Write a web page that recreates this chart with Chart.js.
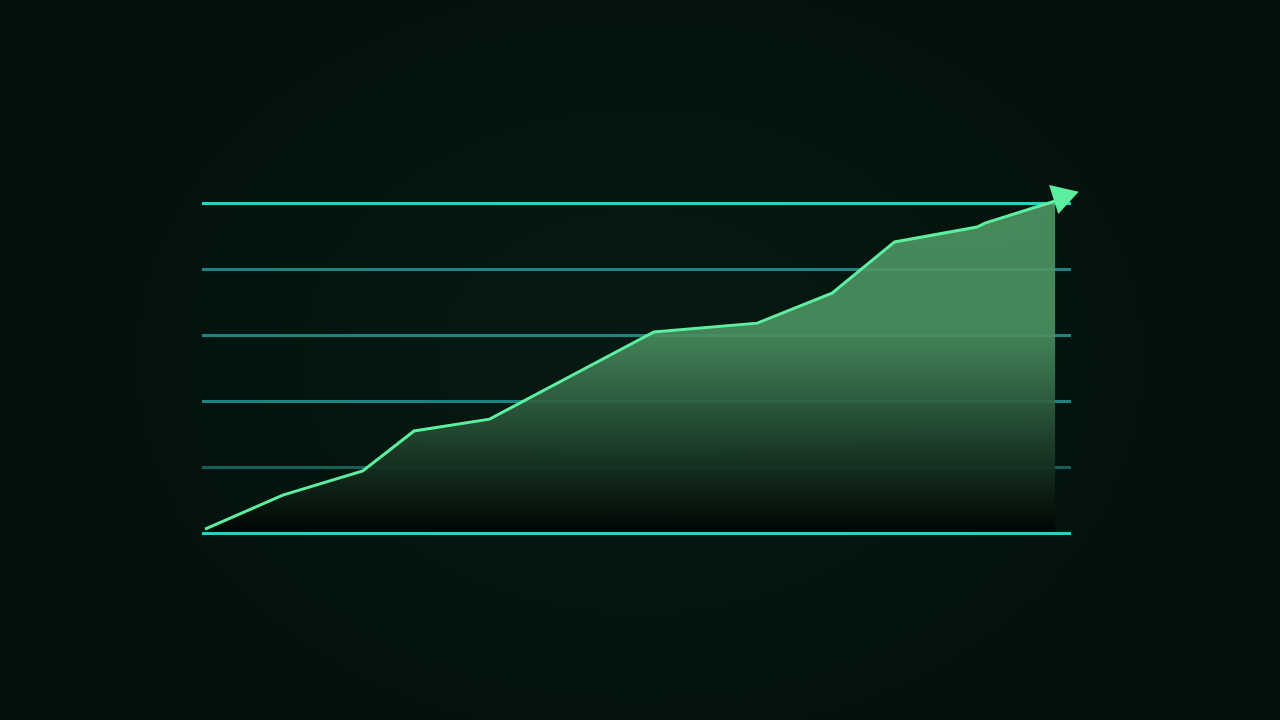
<!DOCTYPE html>
<html>
<head>
<meta charset="utf-8">
<script src="https://cdn.jsdelivr.net/npm/chart.js@4/dist/chart.umd.min.js"></script>
<style>
  html, body { margin: 0; padding: 0; width: 1280px; height: 720px; overflow: hidden; }
  body { background: radial-gradient(ellipse 560px 420px at 640px 360px, #051a13 0%, #04150e 60%, #03110c 100%); }
  #wrap { position: relative; width: 1280px; height: 720px; }
</style>
</head>
<body>
<div id="wrap"><canvas id="c" width="1280" height="720"></canvas></div>
<script>
// Data (x on a 0-100 scale, y on a 0-100 scale)
const xValues = [0.35, 9.3, 18.5, 24.4, 33.1, 52.0, 63.9, 72.5, 79.7, 89.2, 90.1, 98.2];
const yValues = [1.2, 11.5, 18.8, 30.9, 34.5, 60.9, 63.6, 72.7, 88.2, 92.7, 93.9, 100.6];
const gridTicks = [20, 40, 60, 80, 100];
const baseTicks = [0];

const points = xValues.map((x, i) => ({ x: x, y: yValues[i] }));

const gridColorFor = (v) => {
  if (v === 0 || v === 100) return '#2ccfc6';
  if (v === 20) return '#175e5a';
  return '#1d847f';
};

const arrowPlugin = {
  id: 'arrowHead',
  afterDatasetsDraw(chart) {
    const meta = chart.getDatasetMeta(0);
    const n = meta.data.length;
    if (n < 2) return;
    const p = meta.data[n - 1], q = meta.data[n - 2];
    const ang = Math.atan2(p.y - q.y, p.x - q.x);
    const r = 17.5;
    const cx = p.x + Math.cos(ang) * 7;
    const cy = p.y + Math.sin(ang) * 7 - 2;
    const ctx = chart.ctx;
    ctx.save();
    ctx.beginPath();
    for (let k = 0; k < 3; k++) {
      const a = ang + k * 2 * Math.PI / 3;
      const px = cx + Math.cos(a) * r, py = cy + Math.sin(a) * r;
      if (k === 0) ctx.moveTo(px, py); else ctx.lineTo(px, py);
    }
    ctx.closePath();
    ctx.fillStyle = '#5cef9f';
    ctx.fill();
    ctx.restore();
  }
};

new Chart(document.getElementById('c'), {
  type: 'line',
  data: {
    datasets: [{
      data: points,
      borderColor: '#5cef9f',
      borderWidth: 3,
      pointRadius: 0,
      tension: 0,
      clip: false,
      fill: 'origin',
      backgroundColor: (ctx) => {
        const ca = ctx.chart.chartArea;
        if (!ca) return 'rgba(76,148,98,0.9)';
        const g = ctx.chart.ctx.createLinearGradient(0, ca.top, 0, ca.bottom);
        g.addColorStop(0, 'rgba(78,150,100,0.9)');
        g.addColorStop(0.38, 'rgba(76,146,98,0.9)');
        g.addColorStop(0.6, 'rgba(48,98,66,0.9)');
        g.addColorStop(0.8, 'rgba(22,48,32,0.92)');
        g.addColorStop(1, 'rgba(0,4,2,0.95)');
        return g;
      }
    }]
  },
  options: {
    responsive: false,
    animation: false,
    layout: { padding: { left: 202, right: 209, top: 203, bottom: 187 } },
    plugins: { legend: { display: false }, tooltip: { enabled: false } },
    scales: {
      x: { type: 'linear', min: 0, max: 100, display: false },
      y: {
        type: 'linear', min: 0, max: 100,
        afterBuildTicks: (scale) => { scale.ticks = gridTicks.map(v => ({ value: v })); },
        ticks: { display: false },
        border: { display: false },
        grid: {
          drawTicks: false,
          lineWidth: 3,
          color: (c) => gridColorFor(c.tick ? c.tick.value : 0)
        }
      },
      yBase: {
        type: 'linear', min: 0, max: 100, position: 'left',
        afterBuildTicks: (scale) => { scale.ticks = baseTicks.map(v => ({ value: v })); },
        ticks: { display: false },
        border: { display: false },
        grid: {
          z: 1,
          drawTicks: false,
          lineWidth: 3,
          color: '#2ccfc6'
        }
      }
    }
  },
  plugins: [arrowPlugin]
});
</script>
</body>
</html>
